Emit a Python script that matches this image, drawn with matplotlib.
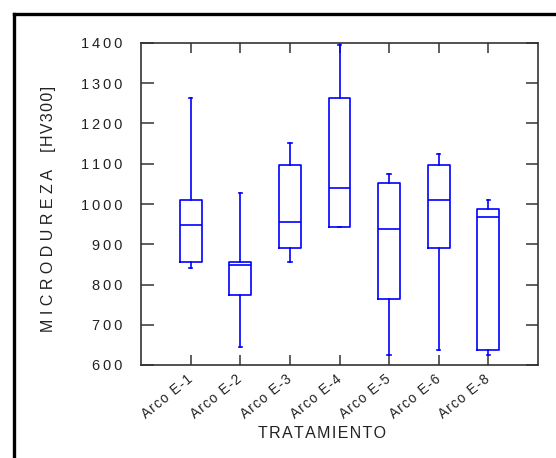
import matplotlib
matplotlib.use("Agg")
import matplotlib.pyplot as plt
from matplotlib.lines import Line2D

plt.rcParams['font.family'] = ['Liberation Sans', 'DejaVu Sans']

# ---- data ----
categories = ["Arco E-1", "Arco E-2", "Arco E-3", "Arco E-4", "Arco E-5", "Arco E-6", "Arco E-8"]
whis_low   = [841, 645, 857, 944, 626, 637, 626]
q1         = [857, 775, 890, 944, 765, 890, 637]
median     = [949, 848, 955, 1040, 937, 1009, 968]
q3         = [1009, 857, 1098, 1263, 1051, 1098, 987]
whis_high  = [1263, 1028, 1151, 1394, 1074, 1124, 1010]
yticks     = [600, 700, 800, 900, 1000, 1100, 1200, 1300, 1400]

THIN = "\u2009"
HAIR = "\u200a"

def spaced(s, sep):
    return sep.join(list(s))

fig = plt.figure(figsize=(5.56, 4.58), dpi=100)
ax = fig.add_axes([141/556, 1 - 365/458, (538-141)/556, (365-43)/458])

stats = []
for i, c in enumerate(categories):
    stats.append(dict(label=c, whislo=whis_low[i], q1=q1[i], med=median[i],
                      q3=q3[i], whishi=whis_high[i], fliers=[]))

blue = '#0000ff'
positions = list(range(1, len(categories) + 1))
ax.bxp(stats, positions=positions, widths=0.44, capwidths=0.07, showfliers=False,
       boxprops=dict(color=blue, linewidth=1.2),
       medianprops=dict(color=blue, linewidth=1.2),
       whiskerprops=dict(color=blue, linewidth=1.2),
       capprops=dict(color=blue, linewidth=1.2))

ax.set_xlim(0, len(categories) + 1)
ax.set_ylim(600, 1400)
ax.set_yticks(yticks)
ax.set_yticklabels([spaced(str(v), THIN) for v in yticks], fontsize=10.5)
ax.set_xticks(positions)
ax.set_xticklabels([spaced(c, HAIR) for c in categories], fontsize=9.8,
                   rotation=39, ha='right', va='center', rotation_mode='anchor')

for sp in ax.spines.values():
    sp.set_color('#333333')
    sp.set_linewidth(1.2)

ax.tick_params(axis='y', direction='in', length=9, width=1.1, color='#333333',
               left=True, right=True, pad=13.5, labelcolor='#222222')
ax.tick_params(axis='x', direction='in', length=7.2, width=1.1, color='#333333',
               bottom=True, top=True, pad=9, labelcolor='#222222')

fig.text(49/556, 1 - ((335 + 83) / 2) / 458,
         spaced("MICRODUREZA", " ") + "    " + spaced("[HV300]", HAIR),
         fontsize=11.5, color='#222222', rotation=90, ha='center', va='center')
fig.text(322/556, 1 - 433/458, spaced("TRATAMIENTO", HAIR), fontsize=11.5,
         color='#222222', ha='center', va='center')

# outer frame (left and top edges)
fig.add_artist(Line2D([13.5/556, 13.5/556], [0, 1 - 13.5/458], color='black', linewidth=2.4,
                      transform=fig.transFigure, solid_capstyle='projecting'))
fig.add_artist(Line2D([13.5/556, 1], [1 - 13.5/458, 1 - 13.5/458], color='black', linewidth=2.4,
                      transform=fig.transFigure, solid_capstyle='projecting'))

fig.savefig("out.png", dpi=100)
